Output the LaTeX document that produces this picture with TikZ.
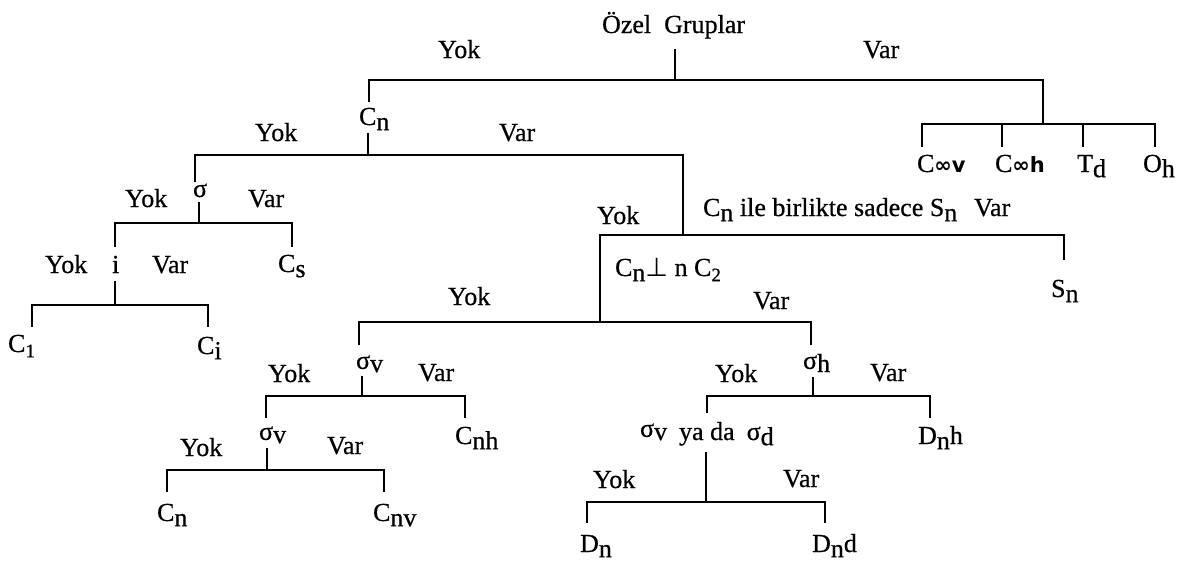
\documentclass[tikz,border=0pt]{standalone}
\usepackage{fontspec}
\setmainfont{Liberation Serif}[FakeBold=0.6]
\newfontfamily\dvs{DejaVu Sans}
\newcommand{\lo}[1]{\raisebox{-0.2em}{#1}}
\newcommand{\hi}[1]{\raisebox{0.12em}{#1}}
\newcommand{\smf}{\fontsize{19pt}{19pt}\selectfont}
\newcommand{\inff}{\fontsize{21pt}{21pt}\selectfont}
\begin{document}
\begin{tikzpicture}[x=1pt,y=-1pt,line width=2.2pt,
  lab/.style={anchor=base west,inner sep=0pt,font=\fontsize{26pt}{29pt}\selectfont}]
\fill[white] (0,0) rectangle (1181,562);
\useasboundingbox (0,0) rectangle (1181,562);
% ---------- labels ----------
\node[lab] (root) at (601,33) {Özel\hspace{13pt}Gruplar};
\node[lab] (y1) at (437,58) {Yok};
\node[lab] (v1) at (862,58) {Var};
\node[lab] (cn) at (358,125) {C\lo{n}};
\node[lab] (y2) at (254,141) {Yok};
\node[lab] (v2) at (498,141) {Var};
\node[lab] (sig) at (192,197) {σ};
\node[lab] (y3) at (124,207) {Yok};
\node[lab] (v3) at (247,207) {Var};
\node[lab] (cs) at (277,272) {C\lo{s}};
\node[lab] (inv) at (111,273) {i};
\node[lab] (y4) at (44,273) {Yok};
\node[lab] (v4) at (151,273) {Var};
\node[lab] (c1) at (7,352) {C\lo{\smf 1}};
\node[lab] (ci) at (196,354) {C\lo{i}};
\node[lab] (cinfv) at (916,172) {C{\dvs\bfseries\inff ∞v}};
\node[lab] (cinfh) at (994,172) {C{\dvs\bfseries\inff ∞h}};
\node[lab] (td) at (1076,172) {T\lo{d}};
\node[lab] (oh) at (1142,172) {O\lo{h}};
\node[lab] (y5) at (596,224) {Yok};
\node[lab] (cnsn) at (702,216) {C\lo{n} ile birlikte sadece S\lo{n}};
\node[lab] (v5) at (973,216) {Var};
\node[lab] (sn) at (1050,297) {S\lo{n}};
\node[lab] (perp) at (614,276) {C\lo{n}{\dvs ⊥} n C\lo{\smf 2}};
\node[lab] (y6) at (447,305) {Yok};
\node[lab] (v6) at (752,309) {Var};
\node[lab] (sv1) at (355,372) {\hi{σ}v};
\node[lab] (y7) at (267,382) {Yok};
\node[lab] (v7) at (417,381) {Var};
\node[lab] (cnh) at (454,444) {C\lo{nh}};
\node[lab] (sv2) at (258,443) {\hi{σ}v};
\node[lab] (y8) at (179,456) {Yok};
\node[lab] (v8) at (326,454) {Var};
\node[lab] (cnl) at (156,521) {C\lo{n}};
\node[lab] (cnv) at (372,521) {C\lo{nv}};
\node[lab] (sh) at (802,372) {\hi{σ}h};
\node[lab] (y9) at (714,382) {Yok};
\node[lab] (v9) at (869,381) {Var};
\node[lab] (dnh) at (917,444) {D\lo{n}h};
\node[lab] (svsd) at (639,440) {\hi{σ}v\hspace{12pt}ya da\hspace{12pt}σ\lo{d}};
\node[lab] (y10) at (592,488) {Yok};
\node[lab] (v10) at (782,487) {Var};
\node[lab] (dn) at (579,552) {D\lo{n}};
\node[lab] (dnd) at (811,552) {D\lo{n}d};
% ---------- junction coordinates ----------
\coordinate (p1) at (675,49);  \coordinate (j1) at (675,80);
\coordinate (l1) at (369,102); \coordinate (r1) at (1043,124);
\coordinate (l2) at (922,147); \coordinate (r2) at (1155,147);
\coordinate (t2a) at (1002,147); \coordinate (t2b) at (1083,147);
\coordinate (p3) at (368,133); \coordinate (j3) at (368,155);
\coordinate (l3) at (195,182); \coordinate (j6) at (683,235);
\coordinate (p4) at (199,202); \coordinate (j4) at (199,223);
\coordinate (l4) at (115,247); \coordinate (r4) at (292,247);
\coordinate (p5) at (115,281); \coordinate (j5) at (115,305);
\coordinate (l5) at (32,327);  \coordinate (r5) at (208,327);
\coordinate (j7) at (600,322); \coordinate (r6) at (1064,260);
\coordinate (l7) at (359,345); \coordinate (r7) at (811,345);
\coordinate (p8) at (362,376); \coordinate (j8) at (362,396);
\coordinate (l8) at (266,418); \coordinate (r8) at (465,418);
\coordinate (p9) at (267,448); \coordinate (j9) at (267,470);
\coordinate (l9) at (167,492); \coordinate (r9) at (384,492);
\coordinate (p10) at (813,377); \coordinate (j10) at (813,396);
\coordinate (l10) at (707,413); \coordinate (r10) at (930,418);
\coordinate (p11) at (706,452); \coordinate (j11) at (706,502);
\coordinate (l11) at (587,523); \coordinate (r11) at (825,523);
% ---------- connectors ----------
\draw (p1) -- (j1);
\draw (l1) |- (j1) -| (r1);
\draw (l2) |- (r1) -| (r2);
\draw (t2a) -- (t2a |- r1);
\draw (t2b) -- (t2b |- r1);
\draw (p3) -- (j3);
\draw (l3) |- (j3) -| (j6);
\draw (p4) -- (j4);
\draw (l4) |- (j4) -| (r4);
\draw (p5) -- (j5);
\draw (l5) |- (j5) -| (r5);
\draw (j7) |- (j6) -| (r6);
\draw (l7) |- (j7) -| (r7);
\draw (p8) -- (j8);
\draw (l8) |- (j8) -| (r8);
\draw (p9) -- (j9);
\draw (l9) |- (j9) -| (r9);
\draw (p10) -- (j10);
\draw (l10) |- (j10) -| (r10);
\draw (p11) -- (j11);
\draw (l11) |- (j11) -| (r11);
\end{tikzpicture}
\end{document}
